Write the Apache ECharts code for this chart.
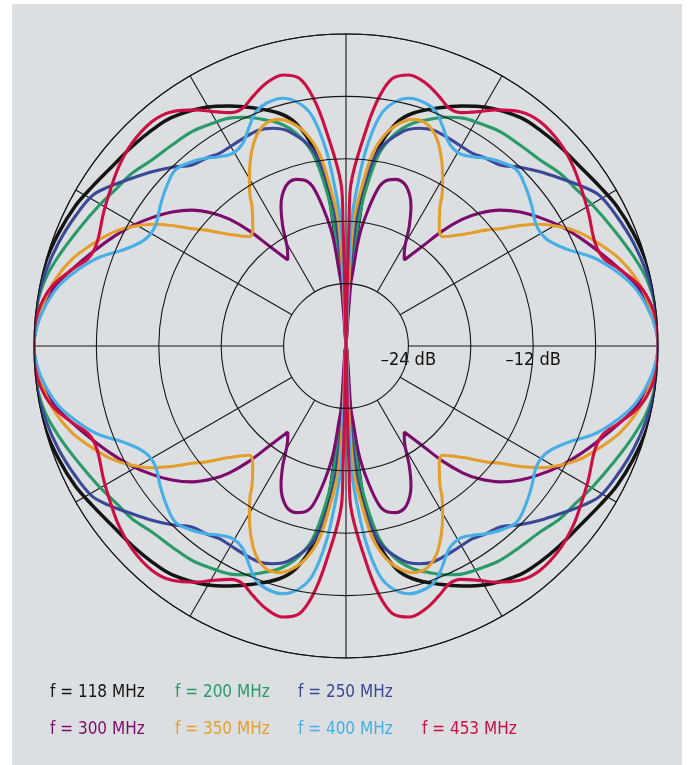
<!DOCTYPE html>
<html>
<head>
<meta charset="utf-8">
<script src="https://cdn.jsdelivr.net/npm/echarts@6/dist/echarts.min.js"></script>
<style>
html,body{margin:0;padding:0;background:#fff;}
#wrap{position:relative;width:692px;height:765px;background:#fff;}
#bg{position:absolute;left:12px;top:4px;width:670px;height:761px;background:#dcdfe2;}
#c{position:absolute;left:0;top:0;width:692px;height:765px;}
</style>
</head>
<body>
<div id="wrap"><div id="bg"></div><div id="c"></div></div>
<script>
// Series names (frequencies) and colours
const seriesNames = ['f = 118 MHz', 'f = 200 MHz', 'f = 250 MHz', 'f = 300 MHz', 'f = 350 MHz', 'f = 400 MHz', 'f = 453 MHz'];
const seriesColors = ['#141414', '#2a9a68', '#3b4896', '#7c0c6c', '#e49e2c', '#47aee6', '#cb0f42'];

// Radius ticks (dB) and labelled rings
const dbTicks = [-30, -24, -18, -12, -6, 0];
const labelledRings = [-24, -12];
const spokeAngles = [0, 30, 60, 90, 120, 150, 180, 210, 240, 270, 300, 330];

// One quadrant of each pattern (angle from horizon in degrees, level in dB),
// read from the reference; the pattern is symmetric in all four quadrants.
const ang118 = [90, 86.5, 84, 83.3, 80.5, 77.3, 74.0, 68.6, 64.1, 59.6, 52.7, 48.1, 43.0, 37.5, 32.0, 27.3, 21.5, 15.5, 9.2, 0];
const db118  = [-30, -24, -17.8, -14.9, -10.6, -8.05, -6.72, -5.39, -4.34, -3.39, -2.37, -2.09, -1.88, -1.65, -1.18, -0.69, -0.31, 0, 0, 0];

const ang200 = [90, 86.8, 84.2, 83.0, 80.2, 76.8, 73.3, 69.8, 66.4, 62.9, 59.1, 54.3, 49.1, 43.8, 38.9, 34.6, 29.5, 23.6, 17.4, 12.5, 7.4, 0];
const db200  = [-30, -24, -18, -15.2, -11.2, -8.99, -7.64, -6.78, -6.0, -5.39, -5.04, -4.62, -4.44, -4.15, -3.56, -3.25, -2.67, -1.95, -1.05, -0.38, -0.04, 0];

const ang250 = [90, 87.2, 85.5, 84.1, 80.4, 75.2, 71.4, 68.1, 64.5, 60.6, 56.7, 53.3, 49.6, 45.8, 41.9, 38.1, 33.7, 30.6, 25.6, 19.8, 13.7, 8.0, 0];
const db250  = [-30, -24, -18, -14.9, -10.88, -8.68, -7.91, -7.62, -7.69, -7.81, -7.83, -7.48, -7.15, -6.02, -4.92, -3.86, -2.48, -1.63, -1.13, -0.64, -0.24, 0, 0];

const ang300 = [90, 85.6, 84.8, 83.1, 80.8, 78.2, 75.8, 73.3, 69.4, 65.1, 62.2, 58.0, 55.9, 52.5, 50.0, 47.4, 44.9, 41.4, 37.6, 33.5, 29.3, 24.8, 20.2, 15.6, 11.7, 7.5, 3.1, 0];
const db300  = [-30, -24, -22.92, -19.35, -16.75, -14.35, -13.54, -13.27, -13.57, -15.16, -16.95, -19.42, -20.01, -17.88, -15.55, -13.44, -11.91, -10.24, -8.88, -7.63, -6.40, -5.21, -3.98, -2.64, -1.46, -0.68, -0.15, 0];

const ang350 = [90, 87.5, 86.5, 84.5, 82.1, 79.3, 76.5, 73.6, 70.2, 66.7, 63.3, 60.3, 57.4, 56.1, 51.4, 48.5, 43.7, 39.6, 37.3, 34.7, 32.1, 29.1, 25.8, 21.8, 17.6, 12.9, 8.2, 3.7, 0];
const db350  = [-30, -24, -18, -14.93, -11.30, -9.19, -7.98, -7.28, -7.25, -8.10, -9.63, -11.25, -12.88, -13.79, -15.63, -15.97, -14.47, -12.52, -11.39, -9.64, -7.98, -6.44, -5.0, -3.69, -2.37, -1.33, -0.63, -0.13, 0];

const ang400 = [90, 88, 87.5, 86.1, 84.2, 81.7, 79.1, 75.7, 71.8, 69.0, 66.2, 63.0, 59.5, 56.2, 53.3, 50.1, 45.9, 41.3, 37.0, 32.2, 28.0, 23.7, 19.7, 16.0, 11.8, 7.6, 3.7, 0];
const db400  = [-30, -24, -18, -14.96, -11.06, -7.72, -6.23, -5.41, -5.43, -5.87, -6.95, -8.13, -8.51, -8.10, -7.48, -6.90, -6.42, -6.97, -7.63, -8.34, -8.14, -6.83, -4.75, -3.26, -1.78, -0.84, -0.23, 0];

const ang453 = [90, 88.8, 88.6, 88.4, 84.7, 82.4, 80.1, 76.9, 73.1, 69.5, 66.5, 63.8, 60.4, 57.6, 53.4, 49.1, 43.4, 38.3, 33.9, 28.8, 22.5, 18.9, 15.6, 11.5, 7.45, 3.06, 0];
const db453  = [-30, -24, -18, -14.8, -9.14, -5.82, -3.87, -3.24, -3.60, -4.40, -5.08, -4.99, -4.08, -3.11, -1.94, -1.48, -1.65, -2.16, -2.77, -3.40, -4.08, -3.85, -2.64, -1.15, -0.36, 0, 0];

const quadAngles = [ang118, ang200, ang250, ang300, ang350, ang400, ang453];
const quadLevels = [db118, db200, db250, db300, db350, db400, db453];

// Build the full closed pattern from the quadrant by mirroring.
function fullPattern(ang, db) {
  const q = ang.map((a, i) => [db[i], a]);
  const r = q.slice().reverse();
  const out = [];
  q.forEach(p => out.push([p[0], p[1]]));                         // upper right 90 -> 0
  r.slice(1).forEach(p => out.push([p[0], 360 - p[1]]));          // lower right 0 -> -90
  q.slice(1).forEach(p => out.push([p[0], 180 + p[1]]));          // lower left 270 -> 180
  r.slice(1).forEach(p => out.push([p[0], 180 - p[1]]));          // upper left 180 -> 90
  return out;
}

const FONT = '"Liberation Sans Narrow", "DejaVu Sans Condensed", "Roboto Condensed", "Arial Narrow", sans-serif';
const gridColor = '#151515';

const series = [];
spokeAngles.forEach(a => {
  series.push({
    type: 'line', coordinateSystem: 'polar', silent: true, symbol: 'none', z: 1,
    lineStyle: { color: gridColor, width: 1.1 },
    data: [[dbTicks[1], a], [dbTicks[dbTicks.length - 1], a]]
  });
});
seriesNames.forEach((n, i) => {
  series.push({
    name: n, type: 'line', coordinateSystem: 'polar', symbol: 'none', showSymbol: false,
    smooth: 0.35, z: 3 + i,
    lineStyle: { color: seriesColors[i], width: i === 0 ? 3.5 : 3.1 },
    itemStyle: { color: seriesColors[i] },
    data: fullPattern(quadAngles[i], quadLevels[i])
  });
});

// Legend layout: two rows, four columns
const legendCols = [39, 164, 287, 411];
const legendRows = [679, 716];
const legendSlots = [[0, 0], [0, 1], [0, 2], [1, 0], [1, 1], [1, 2], [1, 3]];
const legends = seriesNames.map((n, i) => ({
  data: [{ name: n, textStyle: { color: seriesColors[i] } }],
  left: legendCols[legendSlots[i][1]], top: legendRows[legendSlots[i][0]],
  itemWidth: 0, itemHeight: 0, itemGap: 0, selectedMode: false,
  textStyle: { fontSize: 17, fontFamily: FONT }
}));

const chart = echarts.init(document.getElementById('c'), null, { renderer: 'canvas' });
chart.setOption({
  animation: false,
  backgroundColor: 'transparent',
  polar: { center: [346, 346], radius: 312 },
  angleAxis: {
    type: 'value', min: 0, max: 360, interval: 30, startAngle: 0, clockwise: false,
    axisLine: { show: true, lineStyle: { color: gridColor, width: 1.1 } },
    axisTick: { show: false }, axisLabel: { show: false }, splitLine: { show: false }
  },
  radiusAxis: {
    type: 'value', min: dbTicks[0], max: dbTicks[dbTicks.length - 1], interval: 6,
    axisLine: { show: false }, axisTick: { show: false },
    splitLine: { show: true, lineStyle: { color: gridColor, width: 1.1 } },
    axisLabel: {
      formatter: v => labelledRings.indexOf(v) >= 0 ? '\u2013' + Math.abs(v) + ' dB' : '',
      margin: -14, verticalAlign: 'middle', align: 'center',
      color: '#111', fontSize: 18, fontFamily: FONT
    },
    z: 10
  },
  legend: legends,
  series: series
});
</script>
</body>
</html>
